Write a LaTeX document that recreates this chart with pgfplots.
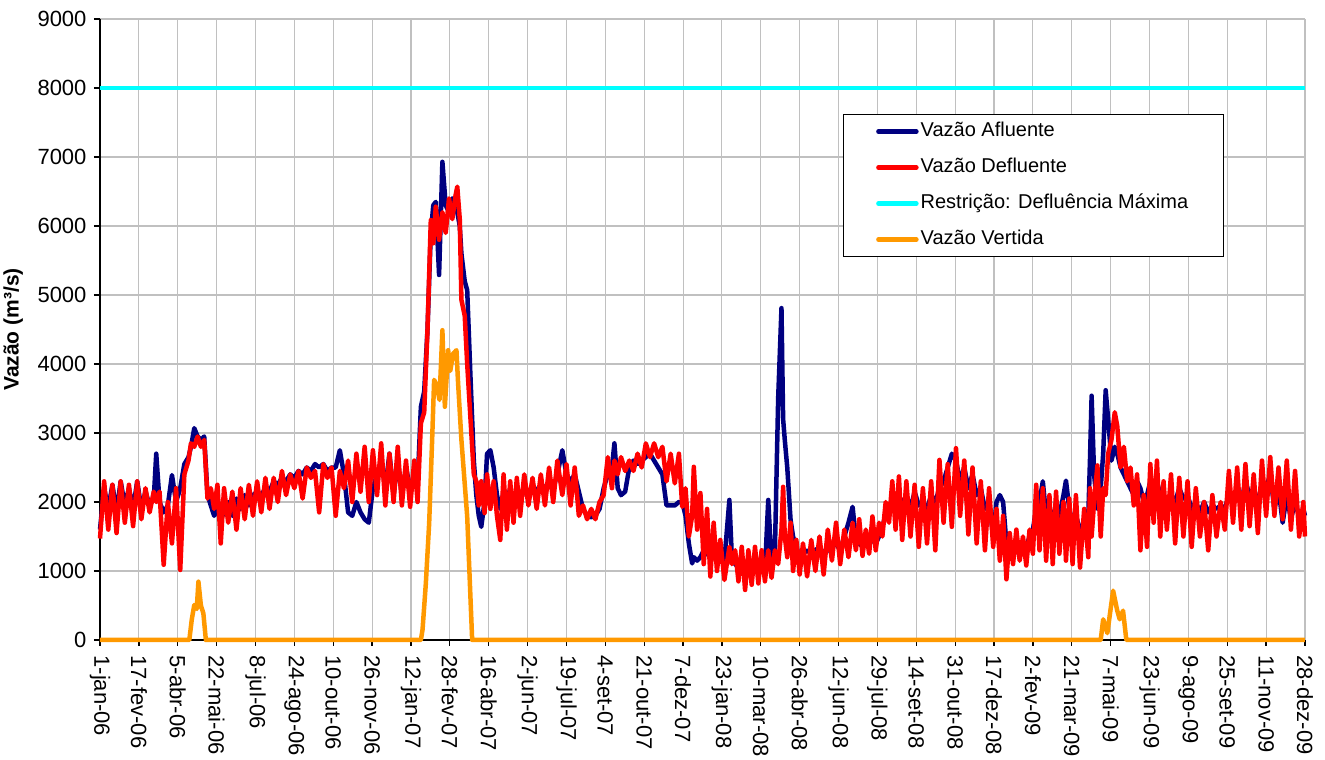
\documentclass[border=0pt]{standalone}
\usepackage{fontspec}
\setmainfont{Liberation Sans}
\usepackage{pgfplots}
\usepackage{pgfplotstable}
\pgfplotsset{compat=1.18}
\definecolor{afl}{RGB}{0,0,128}
\definecolor{defl}{RGB}{255,0,0}
\definecolor{restr}{RGB}{0,255,255}
\definecolor{vert}{RGB}{255,153,0}
\definecolor{gridc}{RGB}{192,192,192}

\pgfplotstableread{
d a r
0 1600 1470
5 2200 2300
10 1900 1600
15 2250 2250
20 1850 1550
25 2300 2300
30 1950 1700
35 2200 2250
40 1900 1650
45 2300 2300
50 1900 1750
55 2150 2200
60 1950 1850
65 2050 2150
68 2700 2000
72 2000 2150
77 1850 1090
82 1950 2000
87 2390 1400
92 2000 2200
97 2200 1015
102 2550 2400
107 2650 2600
110 2800 2850
114 3070 2800
118 2950 2950
122 2900 2800
126 2950 2900
130 2100 2050
134 1950 2200
138 1800 1900
142 1900 2250
146 1750 1400
150 1850 2200
155 2000 1700
160 1800 2150
165 2050 1600
170 1900 2200
175 2100 1750
180 1950 2250
185 2100 1800
190 2150 2300
195 2100 1850
200 2200 2350
205 2150 1900
210 2300 2350
215 2250 2000
220 2350 2450
225 2300 2100
230 2400 2400
235 2350 2200
240 2450 2450
245 2400 2050
250 2500 2500
255 2450 2350
260 2550 2450
265 2500 1850
270 2550 2550
275 2450 2350
280 2500 2500
285 2500 1800
290 2750 2450
295 2400 2200
300 1850 2600
305 1800 2000
310 2000 2700
315 1850 2150
320 1750 2800
325 1700 2000
330 2200 2750
335 2400 2100
340 2600 2850
345 2200 1950
350 2700 2700
355 2100 2000
360 2600 2800
365 2100 1950
370 2500 2600
375 2200 1930
380 2300 2600
384 2250 2000
388 3380 3140
392 3600 3300
396 4500 4500
400 5900 6085
403 6300 5750
406 6350 6280
410 5290 5800
414 6930 6200
418 6300 5900
422 6200 6400
426 6400 6100
430 6300 6450
432 6200 6570
435 6000 6100
437 5600 4930
441 5200 4700
444 5070 4000
448 3800 3200
452 2600 2400
455 2100 2300
458 1800 1950
461 1640 2300
465 2000 1840
468 2700 2400
472 2750 1900
476 2500 2300
480 2100 1800
484 1900 1450
488 2150 2400
492 2000 1600
496 2200 2300
500 1950 1700
504 2100 2350
508 2000 1800
513 2200 2400
518 2100 1950
523 2250 2350
528 2150 1900
533 2250 2400
538 2200 1950
543 2300 2500
548 2200 2000
553 2400 2600
559 2750 2100
564 2400 2550
569 2300 1950
574 2400 2500
579 2150 1800
584 1900 1950
589 1800 1750
594 1780 1900
599 1800 1750
604 1900 2000
609 2200 2100
614 2400 2650
619 2500 2200
622 2850 2600
626 2200 2400
630 2100 2650
635 2150 2450
640 2500 2600
645 2600 2450
650 2550 2700
655 2600 2500
660 2650 2850
665 2700 2650
670 2600 2850
675 2500 2650
680 2400 2800
685 1950 2300
690 1950 2700
695 1950 2270
700 2000 2700
704 2000 1930
708 1800 2200
712 1400 1500
716 1110 1800
718 1200 2510
722 1150 1600
726 1200 2130
730 1300 1100
734 1250 1900
738 1200 920
742 1300 1700
746 1250 1000
750 1200 1450
755 1150 870
761 2030 1350
764 1200 1100
768 1100 1300
772 1050 850
776 1000 1350
780 950 725
784 1000 1300
788 1050 800
792 1000 1350
796 1000 820
800 1050 1300
804 1000 850
808 2030 1300
812 1100 900
816 1250 1300
820 3500 1100
824 4810 1600
826 3200 2220
828 2900 1500
831 2500 1200
835 1740 1700
838 1500 1000
842 1350 1450
846 1200 950
850 1250 1400
855 1300 920
860 1250 1450
865 1300 1000
870 1350 1500
875 1250 950
880 1300 1600
885 1350 1150
890 1400 1700
895 1300 1100
900 1500 1600
905 1700 1200
910 1930 1700
914 1450 1300
918 1400 1750
922 1350 1220
926 1450 1600
930 1400 1250
934 1450 1790
938 1400 1300
942 1500 1700
946 1650 1500
950 1800 2000
954 1900 1700
958 2000 2300
962 2050 1600
966 2100 2370
970 1950 1450
975 2100 2300
980 1900 1500
985 2150 2250
990 1950 1350
995 2000 2200
1000 1900 1400
1005 2100 2300
1010 2000 1300
1015 2200 2610
1020 2300 1700
1025 2500 2550
1030 2700 1640
1035 2600 2780
1040 2300 1800
1045 2500 2600
1050 2200 1530
1055 2400 2500
1060 2100 1400
1065 2200 2300
1070 1900 1300
1075 2000 2200
1080 1500 1350
1084 2000 1900
1088 2100 1150
1092 2000 1800
1096 1400 880
1100 1300 1550
1104 1200 1100
1108 1350 1600
1112 1300 1150
1116 1400 1500
1120 1350 1080
1124 1500 1600
1128 1600 1250
1132 1900 2250
1136 2000 1300
1140 2300 2200
1144 1800 1150
1148 1900 2100
1152 1700 1100
1156 2000 2150
1160 1800 1250
1165 2100 2000
1168 2310 1150
1172 1900 2050
1176 1700 1100
1180 1800 2100
1185 1600 1050
1190 1700 1900
1195 1800 1200
1197 2600 2200
1199 3540 1500
1202 2400 2000
1206 1900 2530
1210 2200 1500
1213 2700 2200
1216 3620 2100
1219 3200 2700
1223 2600 2900
1227 2800 3300
1230 2700 3100
1234 2500 2500
1238 2400 2800
1242 2300 2300
1246 2200 2500
1250 2100 1950
1254 2300 2400
1258 2200 1300
1262 2000 2100
1266 2100 1350
1270 2300 2550
1274 2200 1700
1278 2300 2600
1282 2100 1500
1286 2000 2300
1290 1900 1600
1295 2100 2400
1300 2000 1400
1305 2200 2350
1310 2050 1500
1315 2100 2300
1320 1900 1350
1325 2000 2200
1330 1850 1500
1335 2000 2000
1340 1850 1300
1345 1950 2100
1350 1900 1500
1355 1950 2000
1360 1900 1600
1365 2100 2450
1370 2000 1700
1375 2200 2500
1380 2000 1600
1385 2300 2550
1390 2100 1650
1395 2200 2400
1400 2000 1550
1405 2150 2600
1410 2200 1800
1415 2400 2650
1420 1900 1800
1425 2200 2500
1430 1700 1750
1435 2100 2600
1440 1750 1600
1445 2000 2450
1450 1800 1500
1455 1900 2000
1457 1800 1500
}\flowdata

\pgfplotstableread{
d v
0 0
108 0
111 300
114 507
117 450
119 845
122 500
125 386
128 0
388 0
390 150
394 821
398 1690
401.6 2900
404 3770
407 3700
410.5 3480
414 4490
417 3380
421 4200
423.5 3900
427 4150
431 4200
433 3720
437 2900
444 1790
450 0
1210 0
1213 300
1218 100
1225 715
1230 425
1233 300
1237 425
1241 0
1457 0
}\vertdata

\pgfplotstableread{
d v
0 8000
1457 8000
}\restrdata

\begin{document}
\begin{tikzpicture}
\useasboundingbox (-100pt,-120pt) rectangle (1225pt,640pt);
\begin{axis}[
  at={(0pt,0pt)}, anchor=south west,
  scale only axis,
  width=1205pt, height=621pt,
  xmin=0, xmax=1457, ymin=0, ymax=9000,
  axis x line=bottom, axis y line=left,
  axis line style={-, black, line width=1.3pt},
  clip=false,
  xtick={0,47,...,1457},
  xticklabels={1-jan-06,17-fev-06,5-abr-06,22-mai-06,8-jul-06,24-ago-06,10-out-06,26-nov-06,12-jan-07,28-fev-07,16-abr-07,2-jun-07,19-jul-07,4-set-07,21-out-07,7-dez-07,23-jan-08,10-mar-08,26-abr-08,12-jun-08,29-jul-08,14-set-08,31-out-08,17-dez-08,2-fev-09,21-mar-09,7-mai-09,23-jun-09,9-ago-09,25-set-09,11-nov-09,28-dez-09},
  ytick={0,1000,...,9000},
  yticklabel={\pgfmathprintnumber{\tick}},
  tick align=outside,
  major tick length=6pt,
  tick style={black, line width=1.3pt},
  grid=major,
  major grid style={gridc, line width=1.1pt},
  /pgf/number format/assume math mode=true,
  /pgf/number format/1000 sep={},
  tick label style={font=\fontsize{22}{25}\selectfont},
  x tick label style={rotate=-90, anchor=west},
  xticklabel shift=6pt,
  yticklabel shift=4pt,
  ylabel={Vazão (m³/s)},
  every axis y label/.style={at={(axis description cs:-0.061,0.5)}, rotate=90, anchor=south,
     font=\fontsize{21}{24}\selectfont\bfseries},
  legend cell align=left,
  legend image code/.code={\draw[#1, line cap=round] (0pt,0pt) -- (38pt,0pt);},
  legend style={at={(axis cs:898,7622)}, anchor=north west, draw=black, line width=1pt, fill=white,
    font=\fontsize{20}{24}\selectfont, inner xsep=33pt, inner ysep=8pt, row sep=18pt,
    nodes={inner xsep=2pt, inner ysep=0pt, text height=14pt, text depth=4pt}},
]
\addplot[afl, line width=4.5pt, line join=round] table[x=d, y=a] {\flowdata};
\addlegendentry{Vazão Afluente}
\addplot[defl, line width=4.5pt, line join=round] table[x=d, y=r] {\flowdata};
\addlegendentry{Vazão Defluente}
\addplot[restr, line width=4.5pt] table[x=d, y=v] {\restrdata};
\addlegendentry{Restrição: Defluência Máxima}
\addplot[vert, line width=4.5pt, line join=round] table[x=d, y=v] {\vertdata};
\addlegendentry{Vazão Vertida}
\end{axis}
\end{tikzpicture}
\end{document}
